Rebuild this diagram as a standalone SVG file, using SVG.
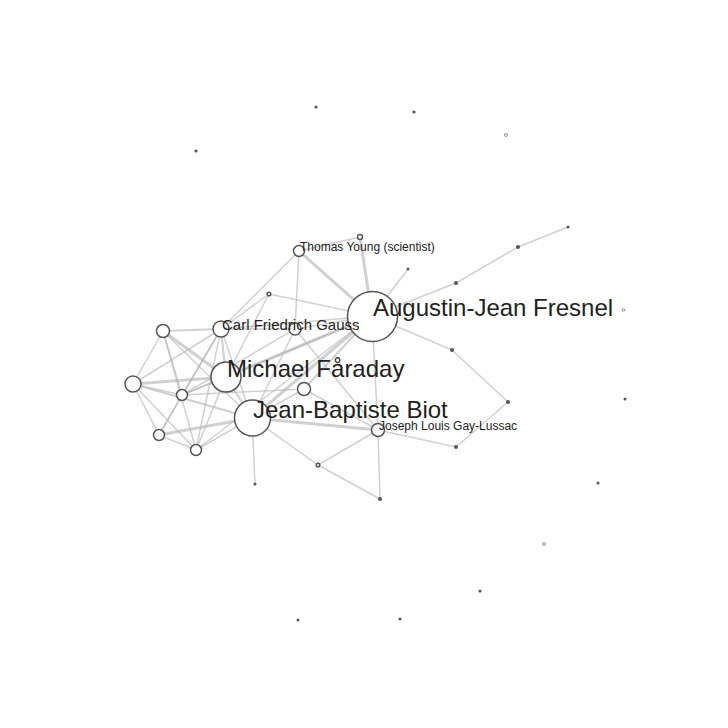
<svg xmlns="http://www.w3.org/2000/svg" width="728" height="728" viewBox="0 0 728 728">
<style>
.e line{stroke:#b4b4b4;stroke-opacity:0.62;stroke-width:1.5;fill:none}
.e .m{stroke-width:2.2}
.e .t{stroke-width:3}
circle{fill:#fff;stroke:#555;stroke-width:1.5}
circle.d{fill:#555;stroke:none}
circle.h{fill:#fff;stroke:#777;stroke-width:0.8}
text{font-family:"Liberation Sans",Arial,sans-serif;fill:#222}
.big{font-size:24px}
.mid{font-size:15px}
.sm{font-size:12px}
</style>
<rect width="728" height="728" fill="#fff"/>
<g id="connectors" class="e">
<line class="t" x1="372" y1="316" x2="299" y2="251"/>
<line class="t" x1="372" y1="316" x2="360" y2="237"/>
<line class="t" x1="163" y1="331" x2="226" y2="377"/>
<line class="t" x1="133" y1="384" x2="226" y2="377"/>
<line class="t" x1="159" y1="435" x2="252" y2="418"/>
<line class="t" x1="252" y1="418" x2="378" y2="430"/>
<line class="t" x1="372" y1="316" x2="226" y2="377"/>
<line class="t" x1="372" y1="316" x2="252" y2="418"/>
<line class="m" x1="163" y1="331" x2="221" y2="329"/>
<line class="m" x1="221" y1="329" x2="226" y2="377"/>
<line class="m" x1="226" y1="377" x2="252" y2="418"/>
<line class="m" x1="372" y1="316" x2="304" y2="389"/>
<line class="m" x1="133" y1="384" x2="252" y2="418"/>
<line x1="299" y1="251" x2="221" y2="329"/>
<line x1="299" y1="251" x2="295" y2="329"/>
<line x1="299" y1="251" x2="360" y2="237"/>
<line x1="269" y1="294" x2="372" y2="316"/>
<line x1="269" y1="294" x2="226" y2="377"/>
<line x1="269" y1="294" x2="221" y2="329"/>
<line x1="221" y1="329" x2="295" y2="329"/>
<line x1="221" y1="329" x2="372" y2="316"/>
<line x1="295" y1="329" x2="372" y2="316"/>
<line x1="295" y1="329" x2="252" y2="418"/>
<line x1="295" y1="329" x2="182" y2="395"/>
<line x1="295" y1="329" x2="378" y2="430"/>
<line x1="372" y1="316" x2="408" y2="269"/>
<line x1="372" y1="316" x2="456" y2="283"/>
<line x1="456" y1="283" x2="518" y2="247"/>
<line x1="518" y1="247" x2="568" y2="227"/>
<line x1="372" y1="316" x2="452" y2="350"/>
<line x1="452" y1="350" x2="508" y2="402"/>
<line x1="508" y1="402" x2="456" y2="447"/>
<line x1="456" y1="447" x2="378" y2="430"/>
<line x1="372" y1="316" x2="378" y2="430"/>
<line x1="372" y1="316" x2="182" y2="395"/>
<line x1="372" y1="316" x2="196" y2="450"/>
<line x1="304" y1="389" x2="378" y2="430"/>
<line x1="304" y1="389" x2="182" y2="395"/>
<line x1="304" y1="389" x2="252" y2="418"/>
<line x1="252" y1="418" x2="318" y2="465"/>
<line x1="252" y1="418" x2="255" y2="484"/>
<line x1="318" y1="465" x2="378" y2="430"/>
<line x1="318" y1="465" x2="380" y2="499"/>
<line x1="378" y1="430" x2="380" y2="499"/>
<line x1="163" y1="331" x2="133" y2="384"/>
<line x1="163" y1="331" x2="182" y2="395"/>
<line x1="163" y1="331" x2="196" y2="450"/>
<line x1="163" y1="331" x2="252" y2="418"/>
<line x1="133" y1="384" x2="221" y2="329"/>
<line x1="133" y1="384" x2="182" y2="395"/>
<line x1="133" y1="384" x2="159" y2="435"/>
<line x1="133" y1="384" x2="196" y2="450"/>
<line x1="182" y1="395" x2="221" y2="329"/>
<line x1="182" y1="395" x2="159" y2="435"/>
<line x1="182" y1="395" x2="226" y2="377"/>
<line x1="159" y1="435" x2="221" y2="329"/>
<line x1="159" y1="435" x2="196" y2="450"/>
<line x1="196" y1="450" x2="221" y2="329"/>
<line x1="196" y1="450" x2="226" y2="377"/>
<line x1="196" y1="450" x2="252" y2="418"/>
<line x1="221" y1="329" x2="252" y2="418"/>
</g>
<g id="n-iso1"><circle class="d" cx="316" cy="107" r="1.6"/></g>
<g id="n-iso2"><circle class="d" cx="414" cy="112" r="1.6"/></g>
<g id="n-iso3"><circle class="h" cx="506" cy="135" r="1.5"/></g>
<g id="n-iso4"><circle class="d" cx="196" cy="151" r="1.6"/></g>
<g id="n-iso5"><circle class="h" cx="623.5" cy="310" r="1.3"/></g>
<g id="n-iso6"><circle class="d" cx="625" cy="399" r="1.5"/></g>
<g id="n-iso7"><circle class="d" cx="598" cy="483" r="1.5"/></g>
<g id="n-iso8"><circle class="h" cx="544" cy="544" r="1.5"/></g>
<g id="n-iso9"><circle class="d" cx="480" cy="591" r="1.6"/></g>
<g id="n-iso10"><circle class="d" cx="298" cy="620" r="1.5"/></g>
<g id="n-iso11"><circle class="d" cx="400" cy="619" r="1.5"/></g>
<g id="n-c1"><circle class="d" cx="456" cy="283" r="2"/></g>
<g id="n-c2"><circle class="d" cx="518" cy="247" r="2"/></g>
<g id="n-c3"><circle class="d" cx="568" cy="227" r="1.5"/></g>
<g id="n-l1"><circle class="d" cx="452" cy="350" r="2"/></g>
<g id="n-l2"><circle class="d" cx="508" cy="402" r="2"/></g>
<g id="n-l3"><circle class="d" cx="456" cy="447" r="2"/></g>
<g id="n-s4"><circle class="d" cx="408" cy="269" r="1.5"/></g>
<g id="n-p1"><circle class="d" cx="380" cy="499" r="2"/></g>
<g id="n-p2"><circle class="d" cx="255" cy="484" r="1.5"/></g>
<g id="n-s1"><circle cx="269" cy="294" r="1.8"/></g>
<g id="n-s2"><circle cx="360" cy="237" r="2.5"/></g>
<g id="n-s3"><circle cx="318" cy="465" r="1.8"/></g>
<g id="n-a"><circle cx="163" cy="331" r="6.5"/></g>
<g id="n-b"><circle cx="133" cy="384" r="8"/></g>
<g id="n-c"><circle cx="182" cy="395" r="5.5"/></g>
<g id="n-d"><circle cx="159" cy="435" r="5.5"/></g>
<g id="n-e"><circle cx="196" cy="450" r="5.5"/></g>
<g id="n-h"><circle cx="295" cy="329" r="6"/></g>
<g id="n-i"><circle cx="304" cy="389" r="6.5"/></g>
<g id="n-fresnel"><circle cx="372.5" cy="316.5" r="25"/><text class="big" x="373" y="316">Augustin-Jean Fresnel</text></g>
<g id="n-young"><circle cx="299" cy="251" r="5.5"/><text class="sm" x="300" y="250.5">Thomas Young (scientist)</text></g>
<g id="n-gaylussac"><circle cx="378" cy="430" r="6.5"/><text class="sm" x="379" y="430">Joseph Louis Gay-Lussac</text></g>
<g id="n-biot"><circle cx="252.5" cy="418" r="18"/><text class="big" x="253" y="417.5">Jean-Baptiste Biot</text></g>
<g id="n-faraday"><circle cx="226" cy="377" r="15"/><text class="big" x="227" y="377">Michael Fåraday</text></g>
<g id="n-gauss"><circle cx="221" cy="329" r="8"/><text class="mid" x="222" y="330">Carl Friedrich Gauss</text></g>
</svg>
